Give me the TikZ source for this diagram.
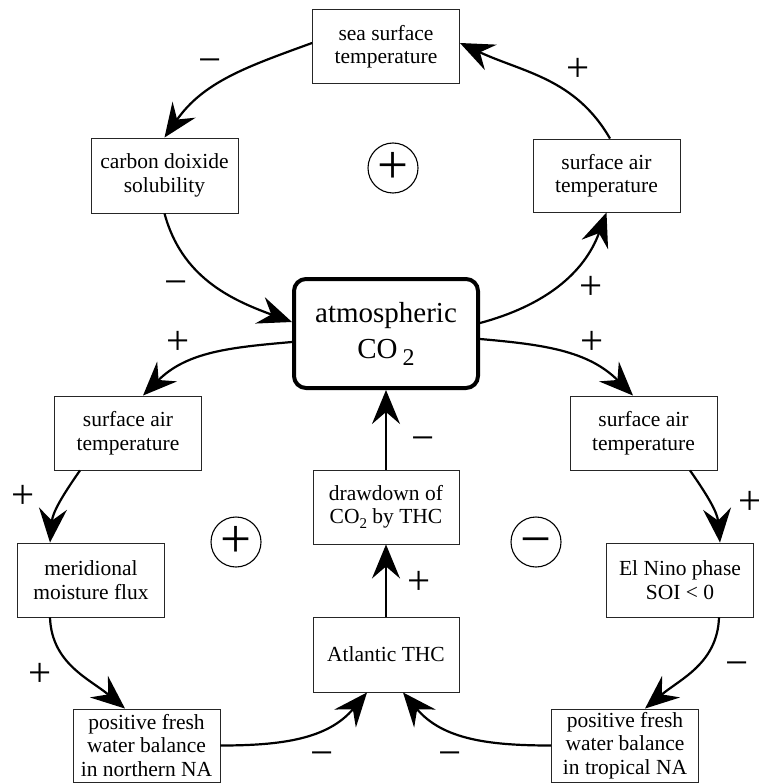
\documentclass[tikz,border=0pt]{standalone}
\usepackage{fontspec}
\setmainfont{Liberation Serif}
\usetikzlibrary{arrows.meta}
\begin{document}
\begin{tikzpicture}[x=1pt,y=1pt,
  box/.style={draw=black!85, line width=0.9pt, minimum width=147pt, minimum height=74pt, inner sep=0pt, align=center, font=\fontsize{21.5}{23.5}\selectfont},
  mainbox/.style={draw, line width=4pt, rounded corners=12pt, minimum width=184pt, minimum height=109pt, inner sep=0pt, align=center, font=\fontsize{29}{36}\selectfont},
  link/.style={line width=2.2pt, -{Stealth[length=34pt,width=28pt,inset=12pt]}},
  sign/.style={font=\fontsize{41}{41}\selectfont, inner sep=0pt},
  loopring/.style={circle, draw, line width=1.1pt, minimum size=50pt, inner sep=0pt},
  loopsign/.style={font=\fontsize{55}{55}\selectfont, inner sep=0pt}]
\fill[white] (0,0) rectangle (758,-783);
\useasboundingbox (0,0) rectangle (758,-783);

% nodes
\node[box] (sst) at (386,-46.5) {sea surface\\temperature};
\node[box, minimum height=75pt] (carbon) at (164.5,-175.5) {carbon doixide\\solubility};
\node[box, minimum height=73pt] (trsat) at (606.5,-175.5) {surface air\\temperature};
\node[mainbox] (co2) at (386,-333.5) {atmospheric\\CO\hspace{5pt}\raisebox{-7pt}{\fontsize{24}{24}\selectfont 2}};
\node[box] (lsat) at (128,-433) {surface air\\temperature};
\node[box] (rsat) at (643.5,-433) {surface air\\temperature};
\node[box] (merid) at (91,-580) {meridional\\moisture flux};
\node[box] (elnino) at (680,-580) {El Nino phase\\SOI < 0};
\node[box, minimum width=146pt] (drawd) at (386,-507) {drawdown of\\CO\raisebox{-5pt}{\fontsize{15}{15}\selectfont 2} by THC};
\node[box, minimum width=146pt, minimum height=75pt] (atl) at (386,-654.5) {Atlantic THC};
\node[box, minimum height=73pt] (nna) at (146.5,-745.5) {positive fresh\\water balance\\in northern NA};
\node[box, minimum height=73pt] (tna) at (625,-745.5) {positive fresh\\water balance\\in tropical NA};

% loop polarity symbols
\node[loopring] (c1) at (393,-168) {};
\node[loopsign] (c1s) at (c1) {\vphantom{+}+};
\node[loopring] (c2) at (236,-542) {};
\node[loopsign] (c2s) at (c2) {\vphantom{+}+};
\node[loopring] (c3) at (536,-542) {};
\node[loopsign] (c3s) at (c3) {\vphantom{+}−};

% connectors
\draw[link] ([yshift=3.5pt]sst.west) to[out=200,in=55] (carbon.north);
\draw[link] (carbon.south) to[out=-75,in=160] ([yshift=11.5pt]co2.west);
\draw[link] ([yshift=10.5pt]co2.east) to[out=15,in=-110] (trsat.south);
\draw[link] ([xshift=3.5pt]trsat.north) to[out=120,in=-25] ([yshift=3.5pt]sst.east);
\draw[link] ([yshift=-8.5pt]co2.west) to[out=185,in=45] ([xshift=15pt]lsat.north);
\draw[link] ([xshift=-48pt]lsat.south) to[out=235,in=85] ([xshift=-41pt]merid.north);
\draw[link] ([xshift=-41pt]merid.south) to[out=-88,in=140] ([xshift=-21.5pt]nna.north);
\draw[link] (nna.east) to[out=0,in=-130] ([xshift=-19pt]atl.south);
\draw[link] (tna.west) to[out=180,in=-50] ([xshift=17pt]atl.south);
\draw[link] ([xshift=39pt]elnino.south) to[out=-92,in=40] ([xshift=20pt]tna.north);
\draw[link] ([xshift=46.5pt]rsat.south) to[out=-55,in=95] ([xshift=40pt]elnino.north);
\draw[link] ([yshift=-5.5pt]co2.east) to[out=-5,in=135] ([xshift=-10.5pt]rsat.north);
\draw[link] (atl.north) -- (drawd.south);
\draw[link] (drawd.north) -- (co2.south);

% signs
\node[sign] (s1) at (210,-62) {\vphantom{+}−};
\node[sign] (s2) at (578,-70) {\vphantom{+}+};
\node[sign] (s3) at (176,-284) {\vphantom{+}−};
\node[sign] (s4) at (178,-343) {\vphantom{+}+};
\node[sign] (s5) at (591,-288) {\vphantom{+}+};
\node[sign] (s6) at (592,-343) {\vphantom{+}+};
\node[sign] (s7) at (423,-440) {\vphantom{+}−};
\node[sign] (s8) at (419,-583) {\vphantom{+}+};
\node[sign] (s9) at (23,-497) {\vphantom{+}+};
\node[sign] (s10) at (750,-503) {\vphantom{+}+};
\node[sign] (s11) at (40,-675) {\vphantom{+}+};
\node[sign] (s12) at (737,-665) {\vphantom{+}−};
\node[sign] (s13) at (322,-755) {\vphantom{+}−};
\node[sign] (s14) at (450,-755) {\vphantom{+}−};
\end{tikzpicture}
\end{document}
